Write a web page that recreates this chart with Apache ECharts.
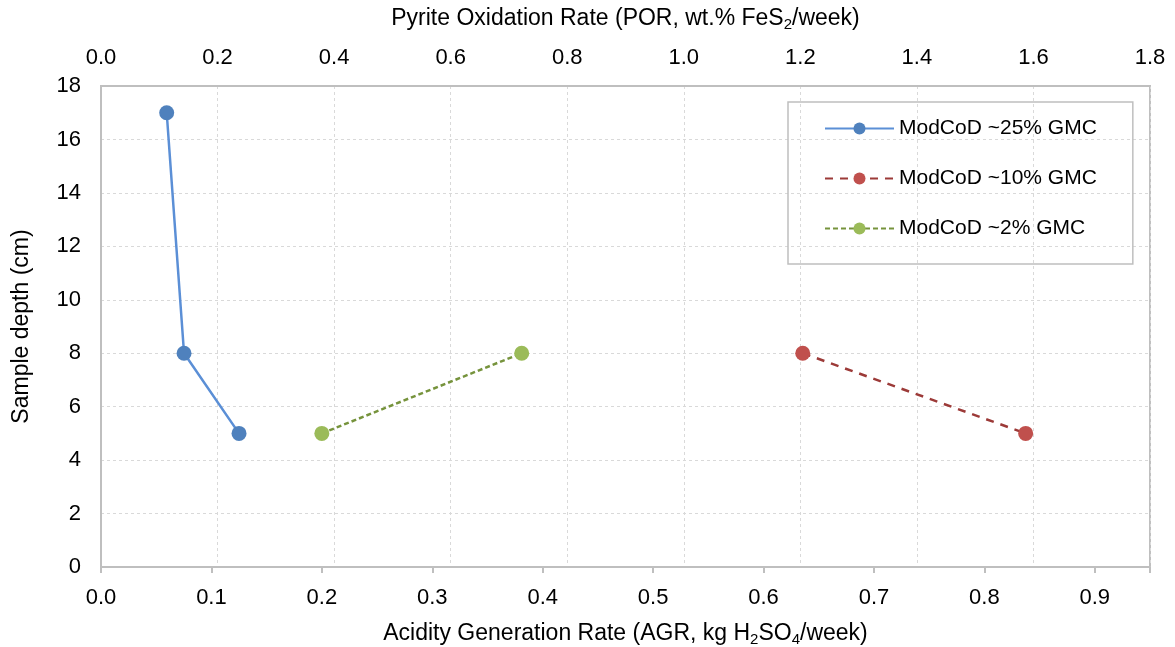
<!DOCTYPE html>
<html>
<head>
<meta charset="utf-8">
<script src="https://cdn.jsdelivr.net/npm/echarts@6/dist/echarts.min.js"></script>
<style>html,body{margin:0;padding:0;background:#fff}#c{width:1175px;height:647px}</style>
</head>
<body>
<div id="c"></div>
<script>
const seriesNames = ['ModCoD ~25% GMC', 'ModCoD ~10% GMC', 'ModCoD ~2% GMC'];
const gmc25 = [[0.0595, 17], [0.0752, 8], [0.125, 5]];
const gmc10 = [[0.6355, 8], [0.8374, 5]];
const gmc2 = [[0.2, 5], [0.381, 8]];
const depthTicks = [0, 2, 4, 6, 8, 10, 12, 14, 16, 18];

const font = 'Liberation Sans, Arial, sans-serif';
const rich = {
  n: {fontSize: 23, fontFamily: font, color: '#000'},
  s: {fontSize: 15, fontFamily: font, color: '#000', padding: [11, 0, 0, 0]}
};
const chart = echarts.init(document.getElementById('c'));
chart.setOption({
  animation: false,
  grid: {left: 101, right: 25, top: 86, bottom: 80, outerBoundsMode: 'none', containLabel: false,
    show: true, borderColor: '#bfbfbf', borderWidth: 2},
  legend: {
    orient: 'vertical', left: 788, top: 102,
    data: seriesNames,
    itemWidth: 69, itemHeight: 15, itemGap: 29,
    padding: [16, 36, 25, 36],
    borderColor: '#bfbfbf', borderWidth: 1.5,
    textStyle: {fontSize: 21, fontFamily: font, color: '#000'}
  },
  xAxis: [{
    type: 'value', position: 'bottom', min: 0, max: 0.95, interval: 0.1,
    axisLine: {lineStyle: {color: '#bfbfbf', width: 2}},
    axisTick: {show: true, length: 6, lineStyle: {color: '#bfbfbf', width: 2}},
    splitLine: {show: false},
    axisLabel: {fontSize: 22, fontFamily: font, color: '#000', margin: 20,
      formatter: v => (v > 0.9001 ? '' : v.toFixed(1))},
    name: '{n|Acidity Generation Rate (AGR, kg H}{s|2}{n|SO}{s|4}{n|/week)}',
    nameLocation: 'middle', nameGap: 54,
    nameTextStyle: {rich: rich}
  }, {
    type: 'value', position: 'top', min: 0, max: 1.8, interval: 0.2,
    axisLine: {show: true, lineStyle: {color: '#bfbfbf', width: 2}},
    axisTick: {show: false},
    splitLine: {show: true, lineStyle: {color: '#d9d9d9', width: 1, type: [3, 3]}},
    axisLabel: {fontSize: 22, fontFamily: font, color: '#000', margin: 17,
      formatter: v => v.toFixed(1)},
    name: '{n|Pyrite Oxidation Rate (POR, wt.% FeS}{s|2}{n|/week)}',
    nameLocation: 'middle', nameGap: 54,
    nameTextStyle: {rich: rich}
  }],
  yAxis: {
    type: 'value', min: depthTicks[0], max: depthTicks[depthTicks.length - 1], interval: 2,
    axisLine: {show: true, lineStyle: {color: '#bfbfbf', width: 2}},
    axisTick: {show: false},
    splitLine: {show: true, lineStyle: {color: '#d9d9d9', width: 1, type: [3, 3]}},
    axisLabel: {fontSize: 22, fontFamily: font, color: '#000', margin: 20},
    name: 'Sample depth (cm)', nameLocation: 'middle', nameGap: 68,
    nameTextStyle: {fontSize: 23, fontFamily: font, color: '#000'}
  },
  series: [{
    name: seriesNames[0], type: 'line', xAxisIndex: 0, data: gmc25,
    symbol: 'circle', symbolSize: 15,
    itemStyle: {color: '#4f81bd'},
    lineStyle: {color: '#5b8fd6', width: 2.5, type: 'solid'}
  }, {
    name: seriesNames[1], type: 'line', xAxisIndex: 0, data: gmc10,
    symbol: 'circle', symbolSize: 15,
    itemStyle: {color: '#c0504d'},
    lineStyle: {color: '#9c3a38', width: 2.5, type: [8, 7]}
  }, {
    name: seriesNames[2], type: 'line', xAxisIndex: 0, data: gmc2,
    symbol: 'circle', symbolSize: 15,
    itemStyle: {color: '#9bbb59'},
    lineStyle: {color: '#76933c', width: 2.5, type: [5, 3]}
  }]
});
</script>
</body>
</html>
